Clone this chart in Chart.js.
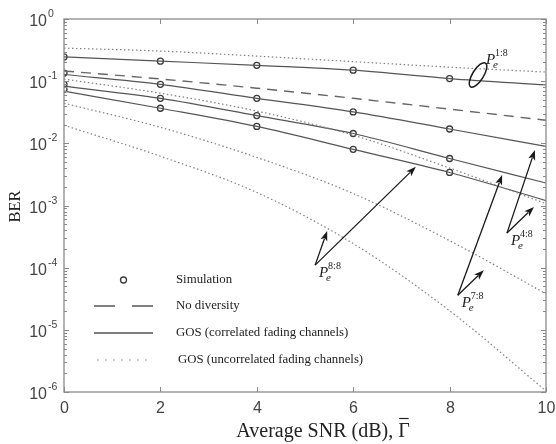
<!DOCTYPE html>
<html><head><meta charset="utf-8">
<script src="https://cdn.jsdelivr.net/npm/chart.js@4/dist/chart.umd.min.js"></script>
<style>html,body{margin:0;padding:0;background:#fff;}canvas{display:block}</style>
</head><body>
<canvas id="c" width="556" height="444"></canvas>
<script>
// ---- data ----
const snr = [0, 2, 4, 6, 8, 10];
const simSnr = [0, 2, 4, 6, 8];
const noDiversity = [0.146, 0.1085, 0.0771, 0.053, 0.0355, 0.0235];
const gosCorr18 = [0.245, 0.21, 0.18, 0.15, 0.11, 0.087];
const gosCorr48 = [0.128, 0.089, 0.053, 0.032, 0.017, 0.0089];
const gosCorr78 = [0.083, 0.053, 0.028, 0.0144, 0.0057, 0.0023];
const gosCorr88 = [0.069, 0.0367, 0.0187, 0.0080, 0.0034, 0.0012];
const gosUnc18 = [0.34, 0.305, 0.253, 0.206, 0.168, 0.14];
const gosUnc48 = [0.108, 0.064, 0.033, 0.0135, 0.0040, 0.00107];
const gosUnc78 = [0.0442, 0.0181, 0.00594, 0.00156, 0.000272, 0.000038];
const gosUnc88 = [0.0195, 0.0062, 0.00162, 0.000244, 0.0000203, 0.00000104];
const sim18 = [0.245, 0.21, 0.18, 0.15, 0.11];
const sim48 = [0.135, 0.089, 0.053, 0.032, 0.017];
const sim78 = [0.089, 0.053, 0.028, 0.0144, 0.0057];
const sim88 = [0.074, 0.0367, 0.0187, 0.0080, 0.0034];
const xTickValues = [0, 2, 4, 6, 8, 10];
const yTickExponents = [0, -1, -2, -3, -4, -5, -6];
const legendLabels = ['Simulation', 'No diversity', 'GOS (correlated fading channels)', 'GOS (uncorrelated fading channels)'];
const xTitle = 'Average SNR (dB), ';
const xTitleSymbol = 'Γ';
const yTitle = 'BER';
// annotations (data coordinates): label, origin, arrow tips
const arrowNotes = [
  {sup: '8:8', o: [5.21, 1.1e-4], tips: [[7.30, 4.2e-3], [5.46, 3.9e-4]]},
  {sup: '7:8', o: [8.17, 3.6e-5], tips: [[9.09, 3.1e-3], [8.71, 9.1e-5]]},
  {sup: '4:8', o: [9.19, 3.6e-4], tips: [[9.77, 7.8e-3], [9.75, 9.5e-4]]}
];
const ellipseNote = {sup: '1:8', center: [8.59, 0.126], label: [8.67, 0.294]};

function pts(xs, ys) { return xs.map((x, i) => ({x: x, y: ys[i]})); }

const solidStyle = {borderColor: '#555', borderWidth: 1.2, pointRadius: 0, fill: false, cubicInterpolationMode: 'monotone'};
const dashStyle = {borderColor: '#666', borderWidth: 1.4, borderDash: [10, 7], pointRadius: 0, fill: false, cubicInterpolationMode: 'monotone'};
const dotStyle = {borderColor: '#808080', borderWidth: 1.2, borderDash: [1.5, 2.5], pointRadius: 0, fill: false, cubicInterpolationMode: 'monotone'};
const simStyle = {showLine: false, pointRadius: 3, pointBorderWidth: 1.3, pointBorderColor: '#3a3a3a', pointBackgroundColor: 'rgba(0,0,0,0)', borderColor: '#3a3a3a'};

const datasets = [
  Object.assign({label: 'unc18', data: pts(snr, gosUnc18)}, dotStyle),
  Object.assign({label: 'unc48', data: pts(snr, gosUnc48)}, dotStyle),
  Object.assign({label: 'unc78', data: pts(snr, gosUnc78)}, dotStyle),
  Object.assign({label: 'unc88', data: pts(snr, gosUnc88)}, dotStyle),
  Object.assign({label: 'nodiv', data: pts(snr, noDiversity)}, dashStyle),
  Object.assign({label: 'c18', data: pts(snr, gosCorr18)}, solidStyle),
  Object.assign({label: 'c48', data: pts(snr, gosCorr48)}, solidStyle),
  Object.assign({label: 'c78', data: pts(snr, gosCorr78)}, solidStyle),
  Object.assign({label: 'c88', data: pts(snr, gosCorr88)}, solidStyle),
  Object.assign({label: 's18', data: pts(simSnr, sim18)}, simStyle),
  Object.assign({label: 's48', data: pts(simSnr, sim48)}, simStyle),
  Object.assign({label: 's78', data: pts(simSnr, sim78)}, simStyle),
  Object.assign({label: 's88', data: pts(simSnr, sim88)}, simStyle)
];

const SANS = '"Liberation Sans", Arial, sans-serif';
const SERIF = '"Liberation Serif", "Times New Roman", serif';

function drawArrow(ctx, x0, y0, x1, y1) {
  const ang = Math.atan2(y1 - y0, x1 - x0);
  const L = 10, W = 3.6;
  ctx.beginPath();
  ctx.moveTo(x0, y0);
  ctx.lineTo(x1 - Math.cos(ang) * L * 0.8, y1 - Math.sin(ang) * L * 0.8);
  ctx.stroke();
  ctx.beginPath();
  ctx.moveTo(x1, y1);
  ctx.lineTo(x1 - L * Math.cos(ang) + W * Math.sin(ang), y1 - L * Math.sin(ang) - W * Math.cos(ang));
  ctx.lineTo(x1 - L * 0.75 * Math.cos(ang), y1 - L * 0.75 * Math.sin(ang));
  ctx.lineTo(x1 - L * Math.cos(ang) - W * Math.sin(ang), y1 - L * Math.sin(ang) + W * Math.cos(ang));
  ctx.closePath();
  ctx.fill();
}
function drawPe(ctx, px, py, sup) {
  ctx.textAlign = 'left';
  ctx.textBaseline = 'alphabetic';
  ctx.font = 'italic 15px ' + SERIF;
  ctx.fillText('P', px + 4, py + 12);
  ctx.font = 'italic 11px ' + SERIF;
  ctx.fillText('e', px + 11, py + 16);
  ctx.font = '10px ' + SERIF;
  ctx.fillText(sup, px + 13, py + 4);
}

const matlabAxes = {
  id: 'matlabAxes',
  afterDraw(chart) {
    const ctx = chart.ctx, a = chart.chartArea, xs = chart.scales.x, ys = chart.scales.y;
    ctx.save();
    // box
    ctx.strokeStyle = '#8a8a8a';
    ctx.lineWidth = 1.3;
    ctx.strokeRect(a.left, a.top, a.right - a.left, a.bottom - a.top);
    ctx.lineWidth = 1;
    // y ticks
    yTickExponents.forEach(e => {
      const py = Math.round(ys.getPixelForValue(Math.pow(10, e))) + 0.5;
      ctx.beginPath();
      ctx.moveTo(a.left, py); ctx.lineTo(a.left + 5, py);
      ctx.moveTo(a.right, py); ctx.lineTo(a.right - 5, py);
      ctx.stroke();
      if (e > -6) {
        for (let m = 2; m <= 9; m++) {
          const pm = Math.round(ys.getPixelForValue(m * Math.pow(10, e - 1))) + 0.5;
          ctx.beginPath();
          ctx.moveTo(a.left, pm); ctx.lineTo(a.left + 3, pm);
          ctx.moveTo(a.right, pm); ctx.lineTo(a.right - 3, pm);
          ctx.stroke();
        }
      }
      ctx.fillStyle = '#444';
      ctx.font = '16px ' + SANS;
      ctx.textAlign = 'right';
      ctx.textBaseline = 'middle';
      ctx.fillText('10', a.left - 17, py + 2);
      ctx.font = '10.5px ' + SANS;
      ctx.textAlign = 'left';
      ctx.fillText(String(e), a.left - 16, py - 5);
    });
    // x ticks
    xTickValues.forEach(v => {
      const px = Math.round(xs.getPixelForValue(v)) + 0.5;
      ctx.beginPath();
      ctx.moveTo(px, a.bottom); ctx.lineTo(px, a.bottom - 5);
      ctx.moveTo(px, a.top); ctx.lineTo(px, a.top + 5);
      ctx.stroke();
      ctx.fillStyle = '#444';
      ctx.font = '16px ' + SANS;
      ctx.textAlign = 'center';
      ctx.textBaseline = 'top';
      ctx.fillText(String(v), px, a.bottom + 9);
    });
    // axis titles
    ctx.fillStyle = '#222';
    ctx.font = '16.5px ' + SERIF;
    ctx.save();
    ctx.translate(16, (a.top + a.bottom) / 2 + 1);
    ctx.rotate(-Math.PI / 2);
    ctx.textAlign = 'center';
    ctx.textBaseline = 'middle';
    ctx.fillText(yTitle, 0, 0);
    ctx.restore();
    ctx.font = '20px ' + SERIF;
    const w1 = ctx.measureText(xTitle).width, w2 = ctx.measureText(xTitleSymbol).width;
    const cx = (a.left + a.right) / 2 + 18;
    const sx = cx - (w1 + w2) / 2;
    ctx.textAlign = 'left';
    ctx.textBaseline = 'alphabetic';
    ctx.fillText(xTitle, sx, 437);
    ctx.fillText(xTitleSymbol, sx + w1, 437);
    ctx.strokeStyle = '#222';
    ctx.lineWidth = 1.2;
    ctx.beginPath();
    ctx.moveTo(sx + w1 + 1, 418.5); ctx.lineTo(sx + w1 + w2 - 1, 418.5);
    ctx.stroke();
    // legend
    const lx0 = a.left + 30, lx1 = a.left + 89, tx = a.left + 112;
    const ly = [a.top + 261, a.top + 287, a.top + 314, a.top + 341];
    ctx.strokeStyle = '#3a3a3a';
    ctx.lineWidth = 1.3;
    ctx.beginPath();
    ctx.arc((lx0 + lx1) / 2, ly[0], 3, 0, Math.PI * 2);
    ctx.stroke();
    ctx.strokeStyle = '#555';
    ctx.lineWidth = 1.4;
    ctx.beginPath();
    ctx.moveTo(lx0, ly[1]); ctx.lineTo(lx0 + 21, ly[1]);
    ctx.moveTo(lx1 - 21, ly[1]); ctx.lineTo(lx1, ly[1]);
    ctx.stroke();
    ctx.lineWidth = 1.3;
    ctx.beginPath();
    ctx.moveTo(lx0, ly[2]); ctx.lineTo(lx1, ly[2]);
    ctx.stroke();
    ctx.strokeStyle = '#808080';
    ctx.lineWidth = 1.2;
    ctx.setLineDash([1.5, 6.5]);
    ctx.beginPath();
    ctx.moveTo(lx0 + 3, ly[3]); ctx.lineTo(lx1, ly[3]);
    ctx.stroke();
    ctx.setLineDash([]);
    ctx.fillStyle = '#222';
    ctx.font = '12.8px ' + SERIF;
    ctx.textBaseline = 'middle';
    legendLabels.forEach((t, i) => ctx.fillText(t, tx + (i === 3 ? 2 : 0), ly[i]));
    // annotations
    ctx.strokeStyle = '#1a1a1a';
    ctx.fillStyle = '#1a1a1a';
    ctx.lineWidth = 1.3;
    arrowNotes.forEach(n => {
      const ox = xs.getPixelForValue(n.o[0]), oy = ys.getPixelForValue(n.o[1]);
      n.tips.forEach(t => drawArrow(ctx, ox, oy, xs.getPixelForValue(t[0]), ys.getPixelForValue(t[1])));
      drawPe(ctx, ox, oy, n.sup);
    });
    const ex = xs.getPixelForValue(ellipseNote.center[0]), ey = ys.getPixelForValue(ellipseNote.center[1]);
    ctx.lineWidth = 1.5;
    ctx.beginPath();
    ctx.ellipse(ex, ey, 5.5, 14, 0.56, 0, Math.PI * 2);
    ctx.stroke();
    const lxp = xs.getPixelForValue(ellipseNote.label[0]), lyp = ys.getPixelForValue(ellipseNote.label[1]);
    drawPe(ctx, lxp, lyp, ellipseNote.sup);
    ctx.restore();
  }
};

new Chart(document.getElementById('c'), {
  type: 'line',
  data: {datasets: datasets},
  options: {
    responsive: false,
    animation: false,
    layout: {padding: {left: 64, right: 10, top: 19, bottom: 52}},
    plugins: {legend: {display: false}, tooltip: {enabled: false}},
    scales: {
      x: {type: 'linear', min: 0, max: 10, display: false},
      y: {type: 'logarithmic', min: 1e-6, max: 1, display: false}
    }
  },
  plugins: [matlabAxes]
});
</script>
</body></html>
